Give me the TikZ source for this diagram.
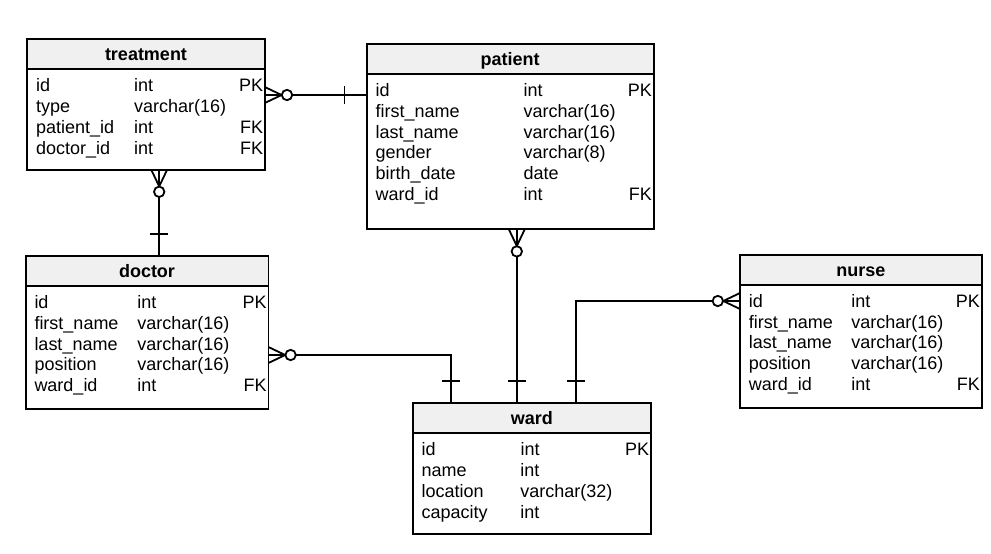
\documentclass[tikz,border=0pt]{standalone}
\usepackage{fontspec}
\setmainfont{Liberation Sans}
\usetikzlibrary{positioning}
\definecolor{headgray}{RGB}{240,240,240}
\newlength{\fldcol}
\newcommand{\erfont}{\fontsize{12.8}{14.75}\selectfont}
\newcommand{\fld}[3]{\noindent\vrule height .4cm width 0pt\makebox[\fldcol][l]{#1}#2\hfill#3}
\tikzset{
  tablehead/.style={draw, fill=headgray, anchor=north west, outer sep=0, minimum height=.75cm, text height=9pt, text depth=0pt, font=\erfont\bfseries},
  tablebody/.style={draw, outer sep=0, inner sep=0},
  fields/.style={anchor=north west, inner sep=0, align=left, execute at begin node={\setlength{\fldcol}{#1}}},
  crowfoot/.pic={\draw (0,.2) -- (.42,0) -- (0,-.2); \draw[fill=white] (.555,0) circle (.13);},
  onebar/.pic={\draw (.56,-.225) -- (.56,.225);}
}
\begin{document}
\begin{tikzpicture}[line width=.045cm, font=\erfont]
  \useasboundingbox (0,0) rectangle (24.775,-13.825);
  \node[tablehead, minimum width=5.94cm] (treatment) at (.68,-.98) {treatment};
  \node[tablebody, minimum width=5.94cm, minimum height=2.51cm, below=0pt of treatment] (treatment-b) {};
  \node[fields=2.45cm, text width=5.675cm] (treatment-f) at ([shift={(.2,-.1425)}]treatment-b.north west)
    {\fld{id}{int}{PK}\\ \fld{type}{varchar(16)}{}\\ \fld{patient\_id}{int}{FK}\\ \fld{doctor\_id}{int}{FK}};
  \node[tablehead, minimum width=7.17cm] (patient) at (9.17,-1.1) {patient};
  \node[tablebody, minimum width=7.17cm, minimum height=3.88cm, below=0pt of patient] (patient-b) {};
  \node[fields=3.7cm, text width=6.905cm] (patient-f) at ([shift={(.2,-.1425)}]patient-b.north west)
    {\fld{id}{int}{PK}\\ \fld{first\_name}{varchar(16)}{}\\ \fld{last\_name}{varchar(16)}{}\\ \fld{gender}{varchar(8)}{}\\ \fld{birth\_date}{date}{}\\ \fld{ward\_id}{int}{FK}};
  \node[tablehead, minimum width=6.07cm] (doctor) at (.64,-6.4) {doctor};
  \node[tablebody, minimum width=6.07cm, minimum height=3.08cm, below=0pt of doctor] (doctor-b) {};
  \node[fields=2.57cm, text width=5.805cm] (doctor-f) at ([shift={(.2,-.1425)}]doctor-b.north west)
    {\fld{id}{int}{PK}\\ \fld{first\_name}{varchar(16)}{}\\ \fld{last\_name}{varchar(16)}{}\\ \fld{position}{varchar(16)}{}\\ \fld{ward\_id}{int}{FK}};
  \node[tablehead, minimum width=5.95cm] (ward) at (10.32,-10.08) {ward};
  \node[tablebody, minimum width=5.95cm, minimum height=2.52cm, below=0pt of ward] (ward-b) {};
  \node[fields=2.47cm, text width=5.685cm] (ward-f) at ([shift={(.2,-.1425)}]ward-b.north west)
    {\fld{id}{int}{PK}\\ \fld{name}{int}{}\\ \fld{location}{varchar(32)}{}\\ \fld{capacity}{int}{}};
  \node[tablehead, minimum width=6.04cm] (nurse) at (18.5,-6.37) {nurse};
  \node[tablebody, minimum width=6.04cm, minimum height=3.08cm, below=0pt of nurse] (nurse-b) {};
  \node[fields=2.56cm, text width=5.775cm] (nurse-f) at ([shift={(.2,-.1425)}]nurse-b.north west)
    {\fld{id}{int}{PK}\\ \fld{first\_name}{varchar(16)}{}\\ \fld{last\_name}{varchar(16)}{}\\ \fld{position}{varchar(16)}{}\\ \fld{ward\_id}{int}{FK}};
  \coordinate (w1) at ([xshift=.96cm]ward.north west);
  \coordinate (w2) at ([xshift=2.6cm]ward.north west);
  \coordinate (w3) at ([xshift=4.07cm]ward.north west);
  \draw ([yshift=-.645cm]treatment-b.north east) coordinate (tp) -- (tp -| patient-b.west) coordinate (pt);
  \draw ([xshift=3.3cm]treatment-b.south west) coordinate (td) -- (td |- doctor.north) coordinate (dt);
  \draw ([yshift=-1.725cm]doctor-b.north east) coordinate (dw) -| (w1);
  \draw (w2 |- patient-b.south) coordinate (pw) -- (w2);
  \draw ([yshift=-.405cm]nurse-b.north west) coordinate (nw) -| (w3);
  \pic at (tp) {crowfoot};
  \pic[rotate=180] at (pt) {onebar};
  \pic[rotate=-90] at (td) {crowfoot};
  \pic[rotate=90] at (dt) {onebar};
  \pic at (dw) {crowfoot};
  \pic[rotate=-90] at (pw) {crowfoot};
  \pic[rotate=180] at (nw) {crowfoot};
  \pic[rotate=90] at (w1) {onebar};
  \pic[rotate=90] at (w2) {onebar};
  \pic[rotate=90] at (w3) {onebar};
\end{tikzpicture}
\end{document}
